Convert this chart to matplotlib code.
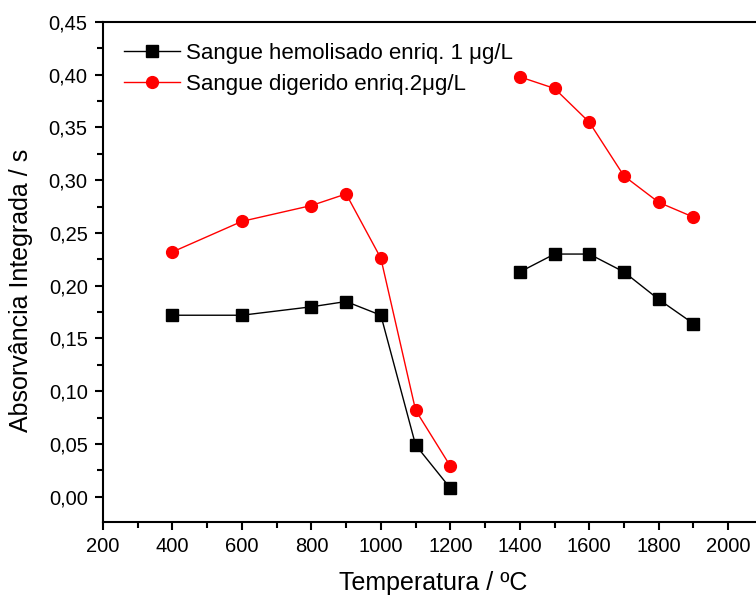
import numpy as np
import matplotlib
matplotlib.use("Agg")
import matplotlib.pyplot as plt
from matplotlib.ticker import MultipleLocator, FuncFormatter

# temperaturas (NaN em 1300 para separar as duas partes da curva)
temperaturas = [400, 600, 800, 900, 1000, 1100, 1200, 1300, 1400, 1500, 1600, 1700, 1800, 1900]
hemolisado = [0.172, 0.172, 0.180, 0.185, 0.172, 0.049, 0.008, np.nan,
              0.213, 0.230, 0.230, 0.213, 0.187, 0.164]
digerido = [0.232, 0.261, 0.276, 0.287, 0.226, 0.082, 0.029, np.nan,
            0.398, 0.387, 0.355, 0.304, 0.279, 0.265]

plt.rcParams['font.family'] = ['Liberation Sans', 'DejaVu Sans']

fig = plt.figure(figsize=(7.56, 5.96), dpi=100)
ax = fig.add_axes([0.1362, 0.1242, 0.8638, 0.8389])

ax.plot(temperaturas, hemolisado, color='black', lw=1, marker='s', ms=8,
        label='Sangue hemolisado enriq. 1 μg/L')
ax.plot(temperaturas, digerido, color='red', lw=1, marker='o', ms=8.5,
        label='Sangue digerido enriq.2μg/L')

ax.set_xlim(200, 2080)
ax.set_ylim(-0.024, 0.45)
ax.xaxis.set_major_locator(MultipleLocator(200))
ax.xaxis.set_minor_locator(MultipleLocator(100))
ax.yaxis.set_major_locator(MultipleLocator(0.05))
ax.yaxis.set_minor_locator(MultipleLocator(0.025))
ax.yaxis.set_major_formatter(FuncFormatter(lambda v, p: f"{v:.2f}".replace('.', ',')))

ax.spines['right'].set_visible(False)
for s in ['left', 'bottom', 'top']:
    ax.spines[s].set_linewidth(1.5)
ax.tick_params(which='both', direction='out', width=1.5, labelsize=14.5, top=False, right=False)
ax.tick_params(which='major', length=6, pad=5)
ax.tick_params(which='minor', length=4)

ax.set_xlabel('Temperatura / ºC', fontsize=18)
ax.set_ylabel('Absorvância Integrada / s', fontsize=18)
ax.xaxis.set_label_coords(0.506, -0.098)
ax.yaxis.set_label_coords(-0.107, 0.464)

ax.legend(loc='upper left', bbox_to_anchor=(0.0, 1.0), frameon=False, fontsize=16,
          handlelength=2.5, handletextpad=0.3, labelspacing=0.45, borderaxespad=0.55)

fig.savefig('out.png', dpi=100)
